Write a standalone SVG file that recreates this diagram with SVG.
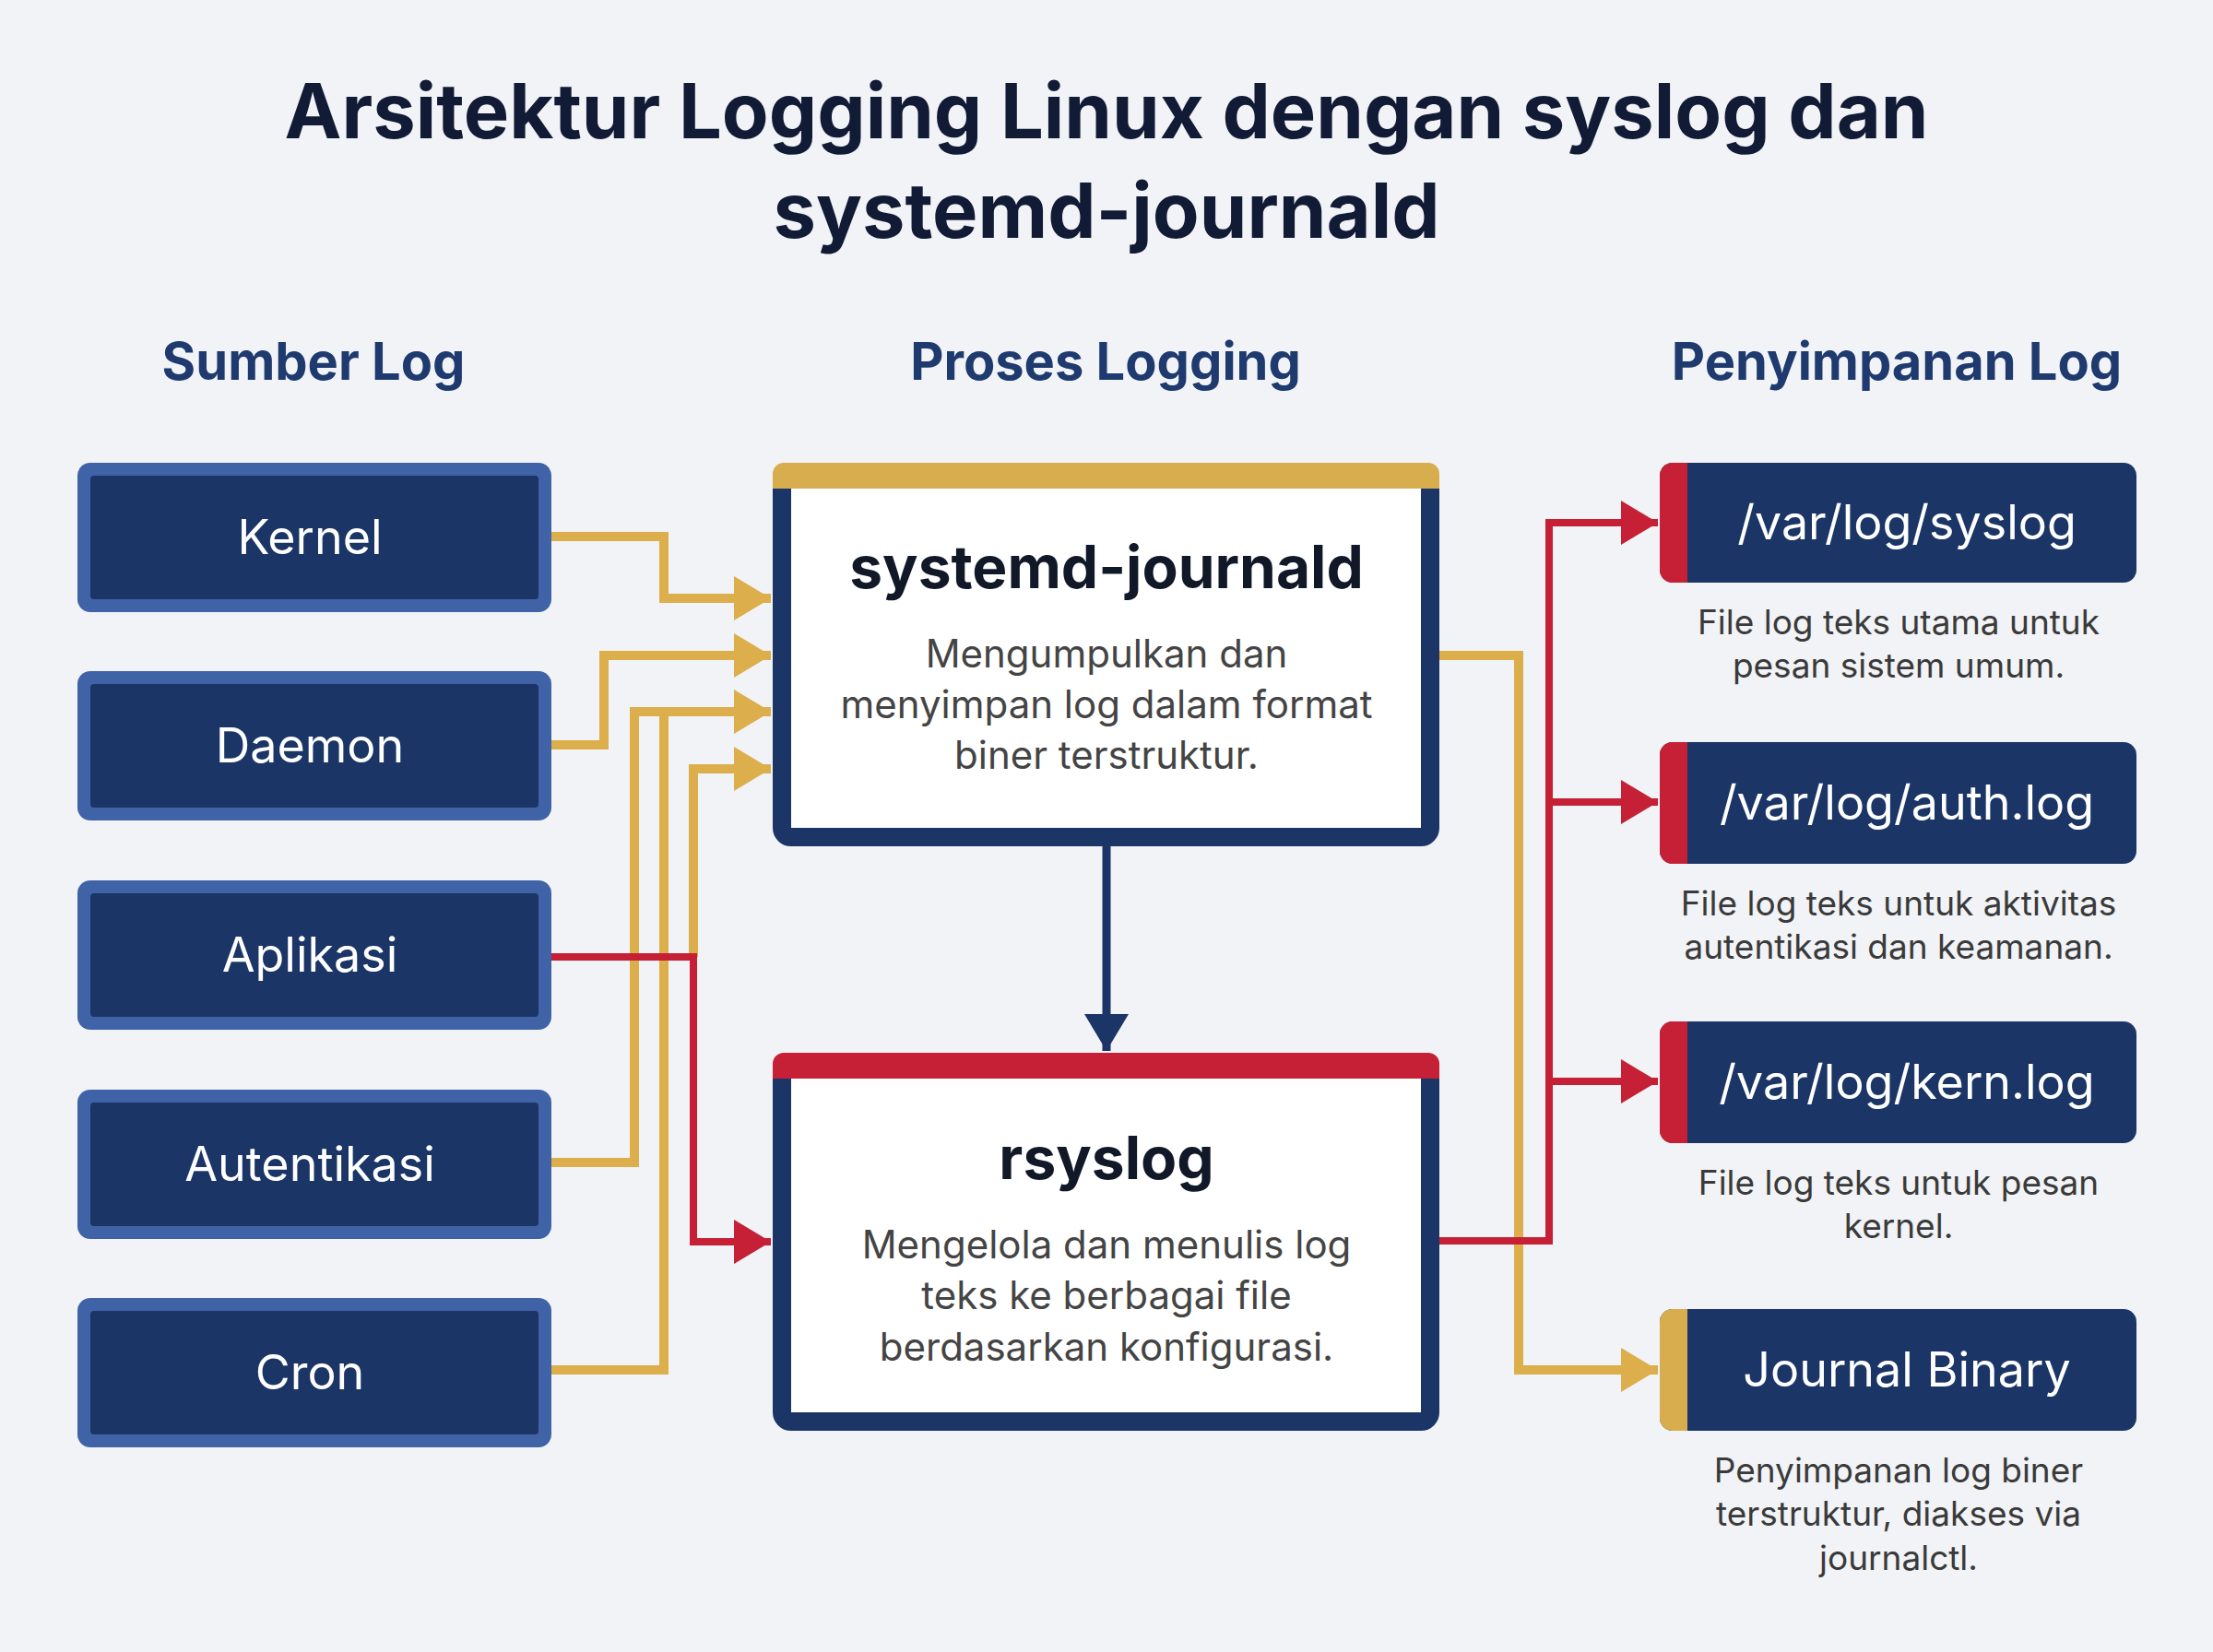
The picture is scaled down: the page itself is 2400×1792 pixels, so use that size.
<svg xmlns="http://www.w3.org/2000/svg" width="2400" height="1792" viewBox="0 0 2400 1792">
<defs>
<style>
.t{font-family:"Inter","Liberation Sans",sans-serif;}
.title{font-size:83px;font-weight:700;fill:#121b35;text-anchor:middle}
.hdr{font-size:56px;font-weight:700;fill:#1e3a6e;text-anchor:middle}
.src rect.o{fill:#3f63a6}
.src rect.i{fill:#1a3566}
.lbl{font-size:52px;fill:#fff;text-anchor:middle}
.ph{font-size:64px;font-weight:700;fill:#111827;text-anchor:middle}
.pd{font-size:42px;fill:#444;text-anchor:middle}
.dd{font-size:37px;fill:#3a3a3a;text-anchor:middle}
.y{fill:none;stroke:#dcae4c;stroke-width:10}
.r{fill:none;stroke:#c62036;stroke-width:8}
</style>
<marker id="ay" viewBox="0 0 40 48" refX="40" refY="24" markerWidth="40" markerHeight="48" markerUnits="userSpaceOnUse" orient="auto"><path d="M0,0L40,24L0,48z" fill="#dcae4c"/></marker>
<marker id="ar" viewBox="0 0 40 48" refX="40" refY="24" markerWidth="40" markerHeight="48" markerUnits="userSpaceOnUse" orient="auto"><path d="M0,0L40,24L0,48z" fill="#c62036"/></marker>
<marker id="an" viewBox="0 0 40 48" refX="40" refY="24" markerWidth="40" markerHeight="48" markerUnits="userSpaceOnUse" orient="auto"><path d="M0,0L40,24L0,48z" fill="#1a3566"/></marker>
</defs>
<rect width="2400" height="1792" fill="#f1f3f6"/>
<text class="t title" x="1200" y="150">Arsitektur Logging Linux dengan syslog dan</text>
<text class="t title" x="1200" y="258">systemd-journald</text>
<text class="t hdr" x="340" y="412">Sumber Log</text>
<text class="t hdr" x="1199" y="412">Proses Logging</text>
<text class="t hdr" x="2057" y="412">Penyimpanan Log</text>

<g id="connectors">
<polyline class="y" points="598,582 720,582 720,649 836,649" marker-end="url(#ay)"/>
<polyline class="y" points="598,808 655,808 655,711 836,711" marker-end="url(#ay)"/>
<polyline class="y" points="598,1261 688,1261 688,772 836,772" marker-end="url(#ay)"/>
<polyline class="y" points="598,1486 720,1486 720,776"/>
<polyline class="y" points="752,1038 752,834 836,834" marker-end="url(#ay)"/>
<polyline class="r" points="598,1038 752,1038 752,1347 836,1347" marker-end="url(#ar)"/>
<line x1="1200" y1="918" x2="1200" y2="1140" stroke="#1a3566" stroke-width="9" marker-end="url(#an)"/>
<polyline class="y" points="1561,711 1647,711 1647,1486 1798,1486" marker-end="url(#ay)"/>
<polyline class="r" points="1561,1346 1680,1346 1680,567 1798,567" marker-end="url(#ar)"/>
<polyline class="r" points="1680,870 1798,870" marker-end="url(#ar)"/>
<polyline class="r" points="1680,1173 1798,1173" marker-end="url(#ar)"/>
</g>

<g id="kernel" class="src"><rect class="o" x="84" y="502" width="514" height="162" rx="14"/><rect class="i" x="98" y="516" width="486" height="134" rx="4"/><text class="t lbl" x="336" y="601">Kernel</text></g>
<g id="daemon" class="src"><rect class="o" x="84" y="728" width="514" height="162" rx="14"/><rect class="i" x="98" y="742" width="486" height="134" rx="4"/><text class="t lbl" x="336" y="827">Daemon</text></g>
<g id="aplikasi" class="src"><rect class="o" x="84" y="955" width="514" height="162" rx="14"/><rect class="i" x="98" y="969" width="486" height="134" rx="4"/><text class="t lbl" x="336" y="1054">Aplikasi</text></g>
<g id="autentikasi" class="src"><rect class="o" x="84" y="1182" width="514" height="162" rx="14"/><rect class="i" x="98" y="1196" width="486" height="134" rx="4"/><text class="t lbl" x="336" y="1281">Autentikasi</text></g>
<g id="cron" class="src"><rect class="o" x="84" y="1408" width="514" height="162" rx="14"/><rect class="i" x="98" y="1422" width="486" height="134" rx="4"/><text class="t lbl" x="336" y="1507">Cron</text></g>

<g id="journald">
<rect x="848" y="512" width="703" height="396" rx="10" fill="#fff" stroke="#1a3566" stroke-width="20"/>
<path d="M838,530V514a12,12 0 0 1 12,-12H1549a12,12 0 0 1 12,12V530z" fill="#d8ad4e"/>
<text class="t ph" x="1200" y="638">systemd-journald</text>
<text class="t pd" x="1200" y="724">Mengumpulkan dan</text>
<text class="t pd" x="1200" y="779">menyimpan log dalam format</text>
<text class="t pd" x="1200" y="834">biner terstruktur.</text>
</g>
<g id="rsyslog">
<rect x="848" y="1152" width="703" height="390" rx="10" fill="#fff" stroke="#1a3566" stroke-width="20"/>
<path d="M838,1170V1154a12,12 0 0 1 12,-12H1549a12,12 0 0 1 12,12V1170z" fill="#c62036"/>
<text class="t ph" x="1200" y="1279">rsyslog</text>
<text class="t pd" x="1200" y="1365">Mengelola dan menulis log</text>
<text class="t pd" x="1200" y="1420">teks ke berbagai file</text>
<text class="t pd" x="1200" y="1476">berdasarkan konfigurasi.</text>
</g>

<g id="syslog"><rect x="1800" y="502" width="517" height="130" rx="14" fill="#1a3566"/><path d="M1830,502H1814a14,14 0 0 0 -14,14V618a14,14 0 0 0 14,14H1830z" fill="#c62036"/><text class="t lbl" x="2068" y="585">/var/log/syslog</text>
<text class="t dd" x="2059" y="688">File log teks utama untuk</text><text class="t dd" x="2059" y="735">pesan sistem umum.</text></g>
<g id="authlog"><rect x="1800" y="805" width="517" height="132" rx="14" fill="#1a3566"/><path d="M1830,805H1814a14,14 0 0 0 -14,14V923a14,14 0 0 0 14,14H1830z" fill="#c62036"/><text class="t lbl" x="2068" y="889">/var/log/auth.log</text>
<text class="t dd" x="2059" y="993">File log teks untuk aktivitas</text><text class="t dd" x="2059" y="1040">autentikasi dan keamanan.</text></g>
<g id="kernlog"><rect x="1800" y="1108" width="517" height="132" rx="14" fill="#1a3566"/><path d="M1830,1108H1814a14,14 0 0 0 -14,14V1226a14,14 0 0 0 14,14H1830z" fill="#c62036"/><text class="t lbl" x="2068" y="1192">/var/log/kern.log</text>
<text class="t dd" x="2059" y="1296">File log teks untuk pesan</text><text class="t dd" x="2059" y="1343">kernel.</text></g>
<g id="journalbin"><rect x="1800" y="1420" width="517" height="132" rx="14" fill="#1a3566"/><path d="M1830,1420H1814a14,14 0 0 0 -14,14V1538a14,14 0 0 0 14,14H1830z" fill="#d8ad4e"/><text class="t lbl" x="2068" y="1504">Journal Binary</text>
<text class="t dd" x="2059" y="1608">Penyimpanan log biner</text><text class="t dd" x="2059" y="1655">terstruktur, diakses via</text><text class="t dd" x="2059" y="1703">journalctl.</text></g>
</svg>
